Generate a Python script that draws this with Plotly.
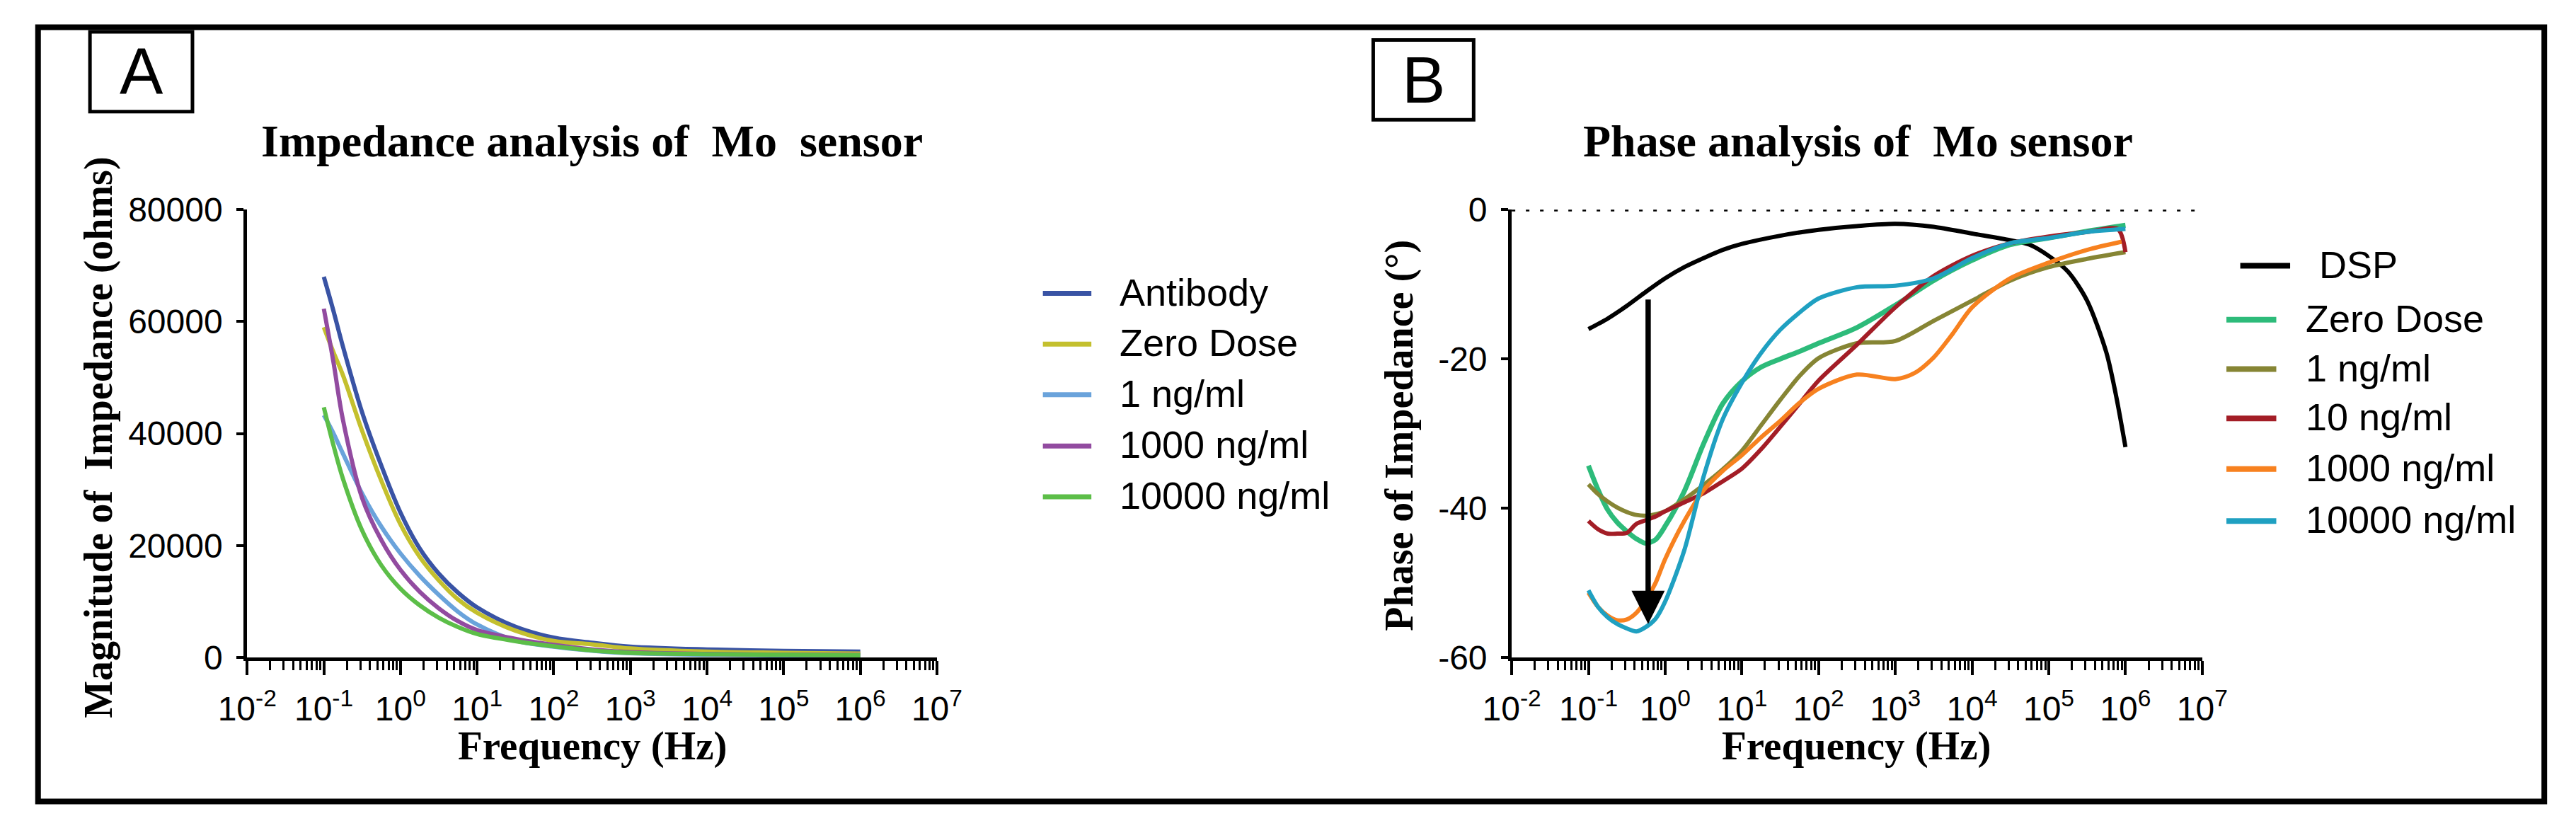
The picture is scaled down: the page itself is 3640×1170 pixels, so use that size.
import numpy as np
import plotly.graph_objects as go

# ---------------- data ----------------
# Panel A: impedance magnitude (ohms) vs frequency (Hz)
imp_freq = [0.1, 0.133, 0.178, 0.316, 0.562, 1, 1.78, 3.16, 5.62, 10, 31.6, 100, 316, 1000, 10000, 100000, 1000000]
imp_names = ["Antibody", "Zero Dose", "1 ng/ml", "1000 ng/ml", "10000 ng/ml"]
imp_antibody = [68000, 62000, 55500, 43800, 34300, 25900, 19500, 15000, 11600, 8950, 5500, 3550, 2650, 1960, 1450, 1200, 1050]
imp_zero_dose = [59000, 54600, 50400, 40500, 31600, 23800, 18000, 13800, 10400, 8000, 4800, 2950, 2360, 1620, 1050, 850, 700]
imp_1ng = [43300, 40100, 36400, 29300, 23400, 18600, 14600, 11200, 8200, 5900, 3050, 1950, 1230, 780, 500, 380, 320]
imp_1000ng = [62300, 52900, 42400, 28500, 21000, 15650, 11750, 8800, 6500, 4900, 3340, 2250, 1450, 960, 650, 520, 450]
imp_10000ng = [44700, 38000, 31900, 22700, 16500, 12300, 9340, 7120, 5450, 4200, 2930, 2000, 1280, 840, 600, 480, 400]

# Panel B: phase (degrees) vs frequency (Hz)
phase_names = ["DSP", "Zero Dose", "1 ng/ml", "10 ng/ml", "1000 ng/ml", "10000 ng/ml"]
dsp_freq = [0.1, 0.178, 0.316, 0.562, 1, 1.78, 3.16, 5.62, 10, 31.6, 100, 316, 1000, 3160, 10000,
            31600, 56200, 100000, 178000, 316000, 562000, 750000, 1000000]
dsp_phase = [-16.0, -14.6, -12.9, -11.0, -9.2, -7.7, -6.5, -5.4, -4.6, -3.5, -2.7, -2.2, -1.9, -2.3, -3.2,
             -4.1, -4.7, -6.2, -8.3, -12.2, -19.1, -24.8, -31.8]
phase_freq = [0.1, 0.133, 0.178, 0.237, 0.316, 0.422, 0.562, 0.75, 1, 1.78, 3.16, 5.62, 10, 17.8, 31.6,
              56.2, 100, 316, 1000, 3160, 10000, 31600, 100000, 316000, 1000000]
zero_dose_phase = [-34.3, -37.5, -40.2, -41.9, -43.1, -44.1, -44.7, -44.2, -42.4, -37.7, -31.4, -26.0, -23.0,
                   -21.1, -20.0, -19.0, -17.9, -15.8, -12.8, -9.5, -6.8, -4.7, -3.8, -2.9, -2.1]
phase_1ng = [-36.8, -38.1, -39.1, -39.9, -40.5, -40.9, -41.0, -40.8, -40.4, -38.8, -36.9, -34.8, -32.3,
             -28.9, -25.5, -22.3, -19.9, -17.9, -17.6, -14.9, -12.2, -9.5, -7.7, -6.6, -5.7]
freq_10ng = [0.1, 0.133, 0.178, 0.237, 0.316, 0.422, 0.562, 0.75, 1, 1.78, 3.16, 5.62, 10, 17.8, 31.6,
             56.2, 100, 316, 1000, 3160, 10000, 31600, 100000, 316000, 794000, 1000000]
phase_10ng = [-41.7, -42.8, -43.4, -43.4, -43.3, -42.1, -41.6, -41.1, -40.4, -39.2, -38.0, -36.4, -34.7,
              -32.1, -29.1, -26.0, -22.9, -18.1, -13.1, -8.9, -6.2, -4.5, -3.6, -3.0, -2.6, -5.7]
freq_1000ng = [0.1, 0.133, 0.178, 0.237, 0.316, 0.422, 0.562, 0.75, 1, 1.78, 3.16, 5.62, 10, 17.8, 31.6,
               56.2, 100, 316, 1000, 1780, 3160, 5620, 10000, 31600, 100000, 316000, 890000]
phase_1000ng = [-51.3, -53.2, -54.4, -55.0, -54.9, -54.0, -52.3, -50.0, -46.8, -41.7, -37.6, -35.0, -32.9,
                -30.5, -28.3, -25.9, -24.0, -22.1, -22.7, -21.9, -19.8, -16.6, -13.1, -9.2, -7.1, -5.4, -4.3]
phase_10000ng = [-51.0, -53.2, -54.6, -55.5, -56.1, -56.5, -55.9, -54.8, -52.5, -45.6, -35.8, -28.1, -23.2,
                 -19.2, -16.1, -13.8, -11.9, -10.4, -10.2, -9.2, -6.5, -4.5, -3.8, -3.0, -2.6]

# arrow annotation (frequency, start phase, end phase)
arrow_freq = 0.6
arrow_from = -11.9
arrow_to = -55.5

# axis ticks
x_tick_vals = [0.01, 0.1, 1, 10, 100, 1000, 10000, 100000, 1000000, 10000000]
x_tick_text = ["10<sup>-2</sup>", "10<sup>-1</sup>", "10<sup>0</sup>", "10<sup>1</sup>", "10<sup>2</sup>",
               "10<sup>3</sup>", "10<sup>4</sup>", "10<sup>5</sup>", "10<sup>6</sup>", "10<sup>7</sup>"]
imp_tick_vals = [0, 20000, 40000, 60000, 80000]
imp_tick_text = ["0", "20000", "40000", "60000", "80000"]
phase_tick_vals = [-60, -40, -20, 0]
phase_tick_text = ["-60", "-40", "-20", "0"]

# ---------------- styling ----------------
W, H = 3640, 1170
SANS = "Liberation Sans"
SERIF = "Liberation Serif"
imp_colors = ["#3953A4", "#C4C02E", "#6AA3DB", "#924BA0", "#5CBE48"]
phase_colors = ["#000000", "#2DBB7A", "#868534", "#A31D26", "#F7811F", "#1FA0C1"]


def px(x):
    return x / W


def py(y):
    return 1 - y / H


fig = go.Figure()

imp_series = [imp_antibody, imp_zero_dose, imp_1ng, imp_1000ng, imp_10000ng]
for name, vals, col in zip(imp_names, imp_series, imp_colors):
    fig.add_trace(go.Scatter(x=imp_freq, y=vals, name=name, mode="lines",
                             line=dict(color=col, width=6, shape="spline", smoothing=1.0),
                             xaxis="x", yaxis="y", showlegend=False, hoverinfo="skip"))

phase_series = [(dsp_freq, dsp_phase), (phase_freq, zero_dose_phase), (phase_freq, phase_1ng),
                (freq_10ng, phase_10ng), (freq_1000ng, phase_1000ng), (phase_freq, phase_10000ng)]
for name, (fx, vals), col in zip(phase_names, phase_series, phase_colors):
    w = 7 if name == "Zero Dose" else 6
    fig.add_trace(go.Scatter(x=fx, y=vals, name=name, mode="lines",
                             line=dict(color=col, width=w, shape="spline", smoothing=0.8),
                             xaxis="x2", yaxis="y2", showlegend=False, hoverinfo="skip"))

minor_vals = [m * 10.0 ** e for e in range(-2, 7) for m in range(2, 10)]
tickfont = dict(family=SANS, size=48, color="black")
xcommon = dict(type="log", range=[-2, 7], tickmode="array", tickvals=x_tick_vals, ticktext=x_tick_text,
               ticks="outside", ticklen=20, tickwidth=4, tickcolor="black",
               showline=True, linewidth=5, linecolor="black", showgrid=False, zeroline=False,
               tickfont=tickfont, ticklabelstandoff=6,
               minor=dict(tickvals=minor_vals, ticks="outside", ticklen=13, tickwidth=3,
                          tickcolor="black", showgrid=False))
ycommon = dict(tickmode="array", ticks="outside", ticklen=10, tickwidth=4, tickcolor="black",
               showline=True, linewidth=5, linecolor="black", showgrid=False, zeroline=False,
               tickfont=tickfont, ticklabelstandoff=10)

ydom = [py(946), py(283)]
fig.update_layout(
    width=W, height=H, autosize=False,
    margin=dict(l=0, r=0, t=0, b=0),
    paper_bgcolor="white", plot_bgcolor="white",
    xaxis=dict(domain=[px(314), px(1310)], anchor="y", **xcommon),
    yaxis=dict(domain=ydom, anchor="x", range=[0, 80000], tickvals=imp_tick_vals,
               ticktext=imp_tick_text, **ycommon),
    xaxis2=dict(domain=[px(2140), px(3137)], anchor="y2", **xcommon),
    yaxis2=dict(domain=ydom, anchor="x2", range=[-60, 0], tickvals=phase_tick_vals,
                ticktext=phase_tick_text, **ycommon),
    showlegend=False,
)

shapes = []
annotations = []

# outer frame
shapes.append(dict(type="rect", xref="paper", yref="paper", x0=px(12), x1=px(3631), y0=py(13), y1=py(1159),
                   line=dict(color="black", width=8), fillcolor="rgba(0,0,0,0)", layer="above"))
# panel letter boxes
for (x0, x1, y0, y1, letter) in [(87, 235, 20, 138, "A"), (1940, 2085, 32, 150, "B")]:
    shapes.append(dict(type="rect", xref="paper", yref="paper", x0=px(x0), x1=px(x1), y0=py(y0), y1=py(y1),
                       line=dict(color="black", width=5), fillcolor="rgba(0,0,0,0)"))
    annotations.append(dict(text=letter, xref="paper", yref="paper", x=px((x0 + x1) / 2), y=py((y0 + y1) / 2),
                            xanchor="center", yanchor="middle", showarrow=False,
                            font=dict(family=SANS, size=92, color="black")))

# dotted zero line in panel B
shapes.append(dict(type="line", xref="x2 domain", yref="y2", x0=0, x1=1, y0=0, y1=0,
                   line=dict(color="black", width=5, dash="5px,15px")))

# titles
annotations.append(dict(text="Impedance analysis of\u00a0 Mo\u00a0 sensor", xref="paper", yref="paper",
                        x=px(812), y=py(182), xanchor="center", yanchor="middle", showarrow=False,
                        font=dict(family=SERIF, size=64, color="black", weight="bold")))
annotations.append(dict(text="Phase analysis of\u00a0 Mo sensor", xref="paper", yref="paper",
                        x=px(2640), y=py(182), xanchor="center", yanchor="middle", showarrow=False,
                        font=dict(family=SERIF, size=64, color="black", weight="bold")))
# axis titles
for xc in (812, 2638):
    annotations.append(dict(text="Frequency (Hz)", xref="paper", yref="paper", x=px(xc), y=py(1077),
                            xanchor="center", yanchor="middle", showarrow=False,
                            font=dict(family=SERIF, size=57, color="black", weight="bold")))
annotations.append(dict(text="Magnitude of\u00a0 Impedance (ohms)", xref="paper", yref="paper",
                        x=px(100), y=py(620), xanchor="center", yanchor="middle", showarrow=False,
                        textangle=-90, font=dict(family=SERIF, size=56, color="black", weight="bold")))
annotations.append(dict(text="Phase of Impedance (\u00b0)", xref="paper", yref="paper",
                        x=px(1977), y=py(617), xanchor="center", yanchor="middle", showarrow=False,
                        textangle=-90, font=dict(family=SERIF, size=56, color="black", weight="bold")))

# arrow in panel B
annotations.append(dict(text="", x=float(np.log10(arrow_freq)), y=arrow_to, xref="x2", yref="y2",
                        ax=float(np.log10(arrow_freq)), ay=arrow_from, axref="x2", ayref="y2",
                        showarrow=True, arrowhead=2, arrowsize=1.25, arrowwidth=7.5, arrowcolor="black",
                        standoff=0))

# legends (drawn as line samples + text)
legend_font = dict(family=SANS, size=54, color="black")
left_leg_y = [407, 482, 557, 633, 708]
for name, col, yy in zip(imp_names, imp_colors, left_leg_y):
    shapes.append(dict(type="line", xref="paper", yref="paper", x0=px(1463), x1=px(1533), y0=py(yy), y1=py(yy),
                       line=dict(color=col, width=7)))
    annotations.append(dict(text=name, xref="paper", yref="paper", x=px(1572), y=py(yy - 2),
                            xanchor="left", yanchor="middle", showarrow=False, font=legend_font))

right_leg_y = [366, 446, 519, 592, 667, 744]
for name, col, yy in zip(phase_names, phase_colors, right_leg_y):
    shift = 20 if name == "DSP" else 0
    shapes.append(dict(type="line", xref="paper", yref="paper", x0=px(3172 + shift), x1=px(3244 + shift),
                       y0=py(yy), y1=py(yy), line=dict(color=col, width=8)))
    annotations.append(dict(text=name, xref="paper", yref="paper", x=px(3284 + shift), y=py(yy - 2),
                            xanchor="left", yanchor="middle", showarrow=False, font=legend_font))

fig.update_layout(shapes=shapes, annotations=annotations)

fig.write_html("out.html", config={"displayModeBar": False},
               post_script="document.body.style.margin='0';document.body.style.overflow='hidden';")
